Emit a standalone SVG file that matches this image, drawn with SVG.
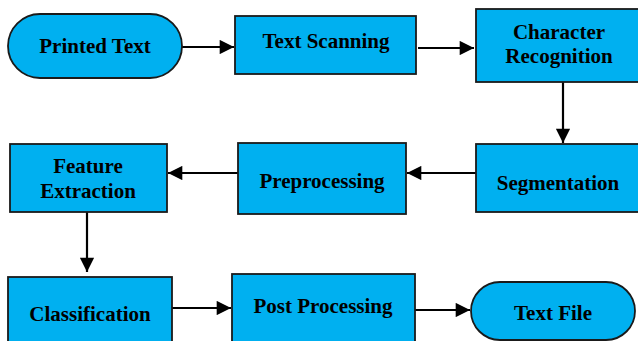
<svg xmlns="http://www.w3.org/2000/svg" width="638" height="341" viewBox="0 0 638 341">
  <style>
    .box { fill: #00B0F0; stroke: #1a1a1a; stroke-width: 1.8; }
    .lbl { font-family: "Liberation Serif", "Times New Roman", serif; font-weight: bold; font-size: 21px; fill: #000; text-anchor: middle; }
    .edge { stroke: #000; stroke-width: 2.2; fill: none; marker-end: url(#arrow); }
  </style>
  <defs>
    <marker id="arrow" viewBox="0 0 10 10" refX="10" refY="5" markerWidth="7" markerHeight="6.5" markerUnits="strokeWidth" orient="auto">
      <path d="M0,0 L10,5 L0,10 Z" fill="#000"/>
    </marker>
  </defs>

  <rect width="638" height="341" fill="#fff"/>

  <!-- connectors -->
  <g id="connectors">
    <line class="edge" x1="182" y1="47" x2="234" y2="47"/>
    <line class="edge" x1="418" y1="48" x2="474" y2="48"/>
    <line class="edge" x1="563" y1="82" x2="563" y2="143"/>
    <line class="edge" x1="476" y1="173" x2="407" y2="173"/>
    <line class="edge" x1="238" y1="173" x2="168" y2="173"/>
    <line class="edge" x1="87" y1="212" x2="87" y2="272"/>
    <line class="edge" x1="172" y1="308" x2="231" y2="308"/>
    <line class="edge" x1="415" y1="310" x2="470" y2="310"/>
  </g>

  <!-- nodes -->
  <g id="printed-text">
    <rect class="box" x="8" y="14" width="174" height="64" rx="32" ry="32"/>
    <text class="lbl" x="95" y="53">Printed Text</text>
  </g>
  <g id="text-scanning">
    <rect class="box" x="235" y="16" width="181" height="58"/>
    <text class="lbl" x="326" y="48">Text Scanning</text>
  </g>
  <g id="character-recognition">
    <rect class="box" x="476" y="9" width="170" height="73"/>
    <text class="lbl" x="559" y="39">Character</text>
    <text class="lbl" x="559" y="63">Recognition</text>
  </g>
  <g id="segmentation">
    <rect class="box" x="476" y="144" width="170" height="68"/>
    <text class="lbl" x="558" y="190">Segmentation</text>
  </g>
  <g id="preprocessing">
    <rect class="box" x="238" y="143" width="168" height="71"/>
    <text class="lbl" x="322" y="188">Preprocessing</text>
  </g>
  <g id="feature-extraction">
    <rect class="box" x="10" y="144" width="157" height="68"/>
    <text class="lbl" x="88" y="173">Feature</text>
    <text class="lbl" x="88" y="198">Extraction</text>
  </g>
  <g id="classification">
    <rect class="box" x="8" y="277" width="164" height="75"/>
    <text class="lbl" x="90" y="321">Classification</text>
  </g>
  <g id="post-processing">
    <rect class="box" x="232" y="274" width="183" height="78"/>
    <text class="lbl" x="323" y="313">Post Processing</text>
  </g>
  <g id="text-file">
    <rect class="box" x="471" y="282" width="164" height="58" rx="29" ry="29"/>
    <text class="lbl" x="553" y="320">Text File</text>
  </g>
</svg>
